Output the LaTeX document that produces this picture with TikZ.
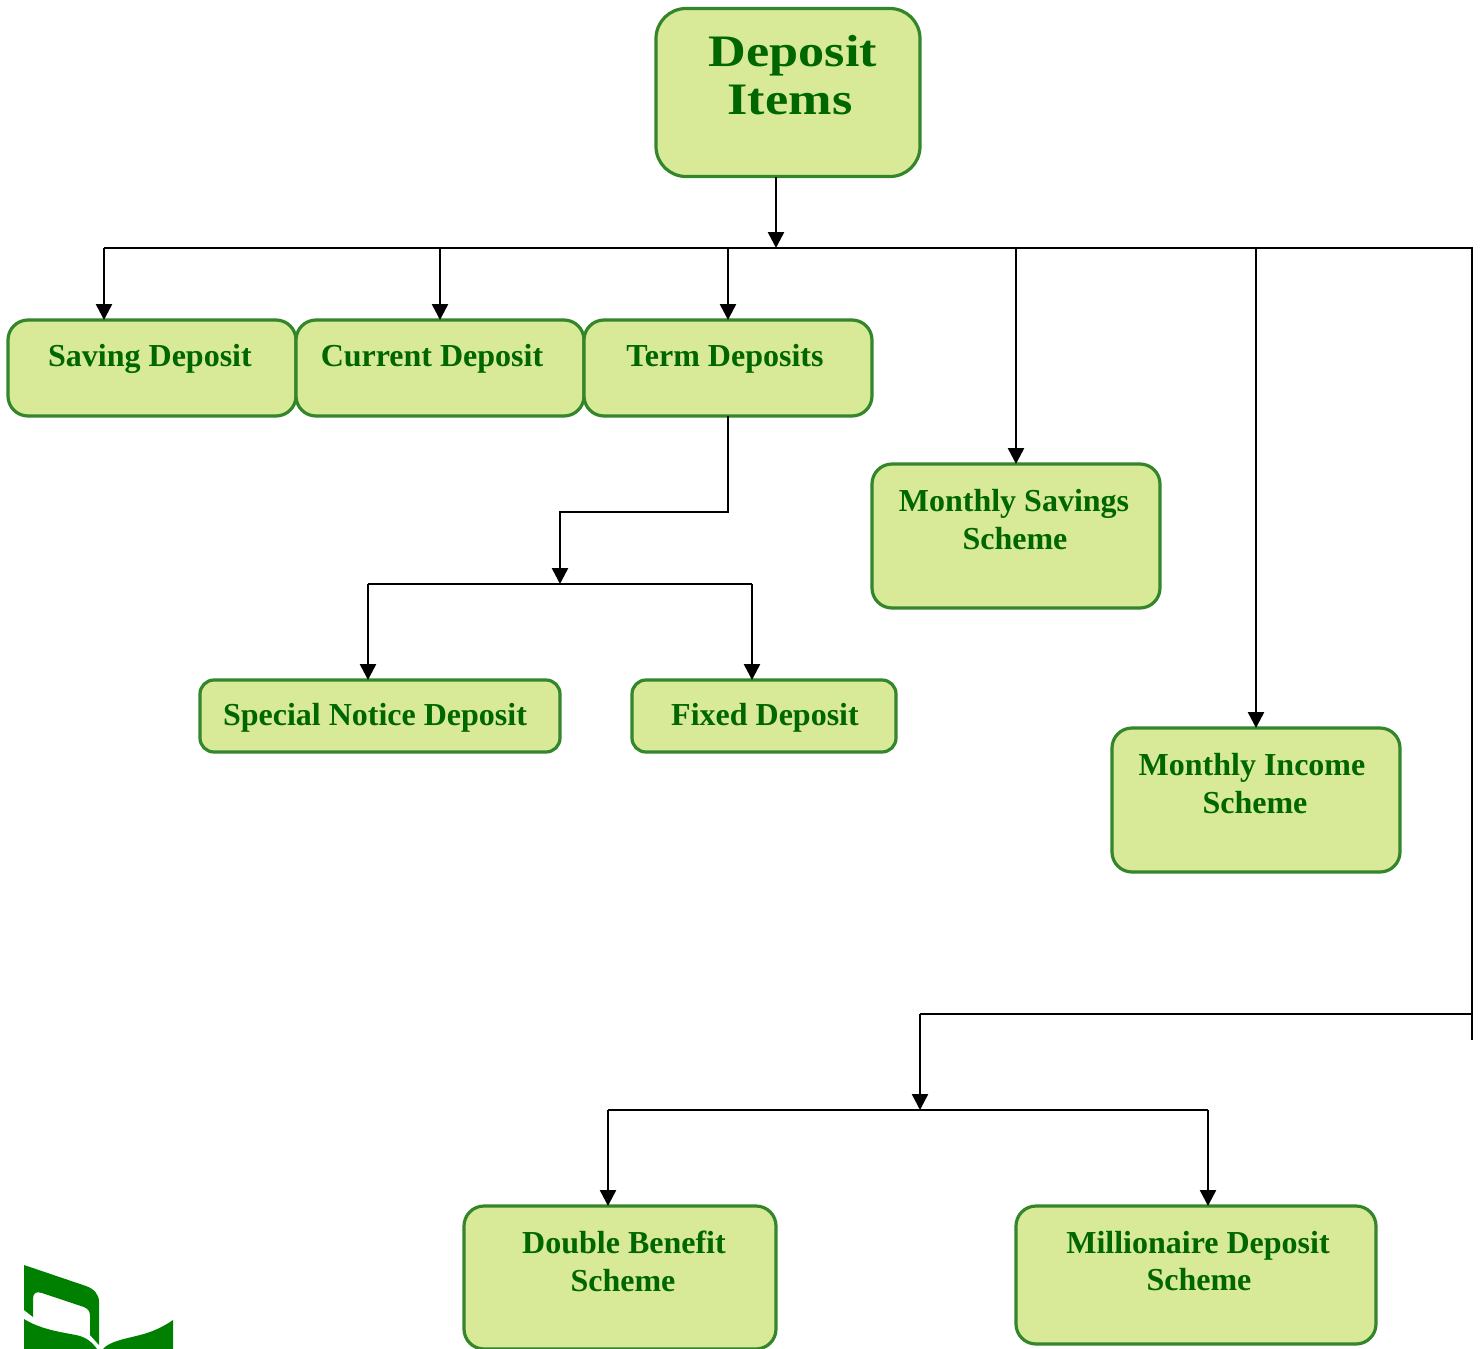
\documentclass[tikz,border=0pt]{standalone}
\usepackage{fontspec}
\setmainfont{Liberation Serif}
\newfontfamily\rootfont[FakeStretch=1.16]{Liberation Serif}
\usetikzlibrary{arrows.meta}

\definecolor{boxfill}{HTML}{D8E998}
\definecolor{boxline}{HTML}{34862A}
\definecolor{boxtext}{HTML}{006600}
\definecolor{logogreen}{HTML}{008000}

\tikzset{
  itembox/.style={draw=boxline, fill=boxfill, line width=3.2pt, rounded corners=20pt,
    outer sep=0pt, inner sep=0pt},
  itemtext/.style={text=boxtext, font=\fontsize{32}{38}\selectfont\bfseries,
    align=center, inner sep=0pt},
  link/.style={draw=black, line width=2.5pt},
  linkarrow/.style={link, -{Triangle[length=16pt, width=16pt]}}
}

\begin{document}
\begin{tikzpicture}[x=1pt, y=-1pt]
  \clip (0, 0) rectangle (1483, 1349);

% logo at the lower left
\fill [logogreen] (24, 1265) -- (86, 1286) .. controls (94, 1289) and (99, 1294) .. (99, 1302)
  -- (99, 1345) -- (90, 1335) -- (90, 1316) .. controls (90, 1311) and (88, 1309) .. (84, 1307)
  -- (42, 1293) .. controls (36, 1291) and (33, 1293) .. (33, 1299) -- (33, 1317) -- (24, 1310) -- cycle;
\fill [logogreen] (24, 1319) .. controls (40, 1329) and (60, 1332) .. (76, 1335)
  .. controls (86, 1337) and (92, 1342) .. (97, 1349) -- (24, 1349) -- cycle;
\fill [logogreen] (103, 1349) .. controls (110, 1341) and (125, 1339) .. (140, 1335)
  .. controls (152, 1332) and (163, 1327) .. (173, 1320) -- (173, 1349) -- cycle;

% boxes
\node [itembox, rounded corners=30pt, minimum width=264pt, minimum height=168pt] (root) at (788, 92.5) {};
\node [itembox, minimum width=288pt, minimum height=96pt] (saving) at (152, 368) {};
\node [itembox, minimum width=288pt, minimum height=96pt] (current) at (440, 368) {};
\node [itembox, minimum width=288pt, minimum height=96pt] (term) at (728, 368) {};
\node [itembox, minimum width=288pt, minimum height=144pt] (savings) at (1016, 536) {};
\node [itembox, minimum width=288pt, minimum height=144pt] (income) at (1256, 800) {};
\node [itembox, rounded corners=14pt, minimum width=360pt, minimum height=72pt] (notice) at (380, 716) {};
\node [itembox, rounded corners=14pt, minimum width=264pt, minimum height=72pt] (fixed) at (764, 716) {};
\node [itembox, minimum width=312pt, minimum height=143pt] (double) at (620, 1277.5) {};
\node [itembox, minimum width=360pt, minimum height=138pt] (million) at (1196, 1275) {};

% texts
\node [itemtext, font=\fontsize{45}{48}\selectfont\bfseries\rootfont] (roottext) at (793, 75) {Deposit\\Items\hspace*{6pt}};
\node [itemtext] (savingtext) at (150, 359) {Saving Deposit};
\node [itemtext] (currenttext) at (432, 359) {Current Deposit};
\node [itemtext] (termtext) at (725, 359) {Term Deposits};
\node [itemtext] (savingstext) at (1014, 520) {Monthly Savings\\\hspace*{2pt}Scheme};
\node [itemtext] (incometext) at (1252, 784) {Monthly Income\\\hspace*{6pt}Scheme};
\node [itemtext] (noticetext) at (375, 718) {Special Notice Deposit};
\node [itemtext] (fixedtext) at (765, 718) {Fixed Deposit};
\node [itemtext] (doubletext) at (624, 1261) {Double Benefit\\Scheme\hspace*{2pt}};
\node [itemtext, font=\fontsize{32}{37}\selectfont\bfseries] (milliontext) at (1198, 1261) {Millionaire Deposit\\\hspace*{2pt}Scheme};

% junction points
\coordinate (top) at (776, 248);
\coordinate (topleft) at (104, 248);
\coordinate (topcurrent) at (440, 248);
\coordinate (topterm) at (728, 248);
\coordinate (topsavings) at (1016, 248);
\coordinate (topincome) at (1256, 248);
\coordinate (topright) at (1472, 248);
\coordinate (rightend) at (1472, 1040);
\coordinate (rightturn) at (1472, 1014);
\coordinate (lowturn) at (920, 1014);
\coordinate (lowbus) at (920, 1110);
\coordinate (lowleft) at (608, 1110);
\coordinate (lowright) at (1208, 1110);
\coordinate (termturn) at (560, 512);
\coordinate (termbus) at (560, 584);
\coordinate (busleft) at (368, 584);
\coordinate (busright) at (752, 584);

% connectors
\draw [linkarrow] (top |- root.south) -- (top);
\draw [link] (topleft) -- (topright) -- (rightend);
\draw [linkarrow] (topleft) -- (topleft |- saving.north);
\draw [linkarrow] (topcurrent) -- (current.north);
\draw [linkarrow] (topterm) -- (term.north);
\draw [linkarrow] (topsavings) -- (savings.north);
\draw [linkarrow] (topincome) -- (income.north);

\draw [linkarrow] (term.south) |- (termturn) -- (termbus);
\draw [link] (busleft) -- (busright);
\draw [linkarrow] (busleft) -- (busleft |- notice.north);
\draw [linkarrow] (busright) -- (busright |- fixed.north);

\draw [link] (rightturn) -- (lowturn);
\draw [linkarrow] (lowturn) -- (lowbus);
\draw [link] (lowleft) -- (lowright);
\draw [linkarrow] (lowleft) -- (lowleft |- double.north);
\draw [linkarrow] (lowright) -- (lowright |- million.north);

\end{tikzpicture}
\end{document}
